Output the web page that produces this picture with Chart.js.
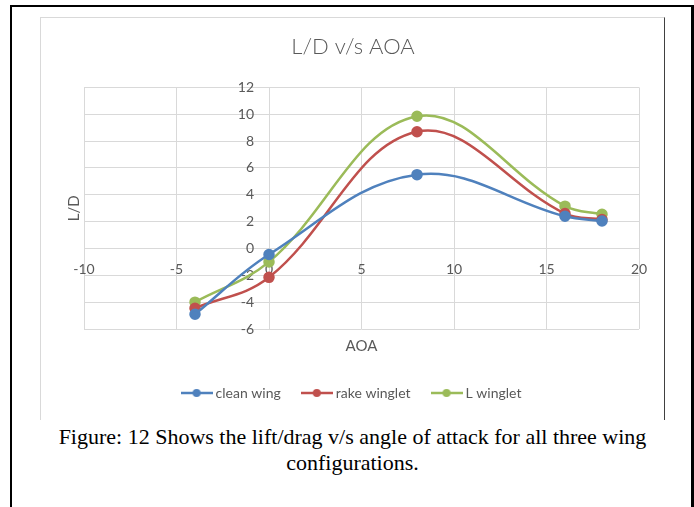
<!DOCTYPE html>
<html>
<head>
<meta charset="utf-8">
<script src="https://cdn.jsdelivr.net/npm/chart.js@4.4.1/dist/chart.umd.min.js"></script>
<style>
  html, body { margin: 0; padding: 0; background: #fff; }
  #page { position: relative; width: 694px; height: 507px; overflow: hidden; }
  #frame { position: absolute; left: 10px; top: 5px; width: 679px; height: 560px;
           border: 2px solid #000; border-right-width: 3px; border-bottom: none; }
  #box { position: absolute; left: 40px; top: 17px; width: 623px; height: 402px; overflow: hidden;
         border-top: 1px solid #d9d9d9; border-left: 1px solid #d9d9d9; border-right: 1px solid #404040; }
  #box canvas { position: absolute; left: 0; top: 0; }
  #cap { position: absolute; left: 40px; top: 424px; width: 625px; text-align: center;
         font-family: "Liberation Serif", "Times New Roman", serif; font-size: 22px; line-height: 26px; color: #000; }
</style>
</head>
<body>
<div id="page">
  <div id="frame"></div>
  <div id="box"><canvas id="chart" width="624" height="402"></canvas></div>
  <div id="cap">Figure: 12 Shows the lift/drag v/s angle of attack for all three wing configurations.</div>
</div>
<script>
// angle of attack (deg)
const aoa = [-4, 0, 8, 16, 18];
// L/D
const cleanWing = [-4.9, -0.45, 5.5, 2.4, 2.05];
const rakeWinglet = [-4.45, -2.15, 8.7, 2.6, 2.15];
const lWinglet = [-4.0, -1.0, 9.85, 3.15, 2.55];

const seriesNames = ['clean wing', 'rake winglet', 'L winglet'];
const seriesColors = ['#4f81bd', '#c0504d', '#9bbb59'];

const xTicks = { min: -10, max: 20, step: 5 };
const yTicks = { min: -6, max: 12, step: 2 };

const FONT = 'Lato, "Open Sans", sans-serif';
const GREY = '#d9d9d9';
const TEXT = '#595959';

// legend marker: line with a dot, like the spreadsheet legend
function legendMarker(color) {
  const c = document.createElement('canvas');
  c.width = 32; c.height = 10;
  const g = c.getContext('2d');
  g.strokeStyle = color; g.lineWidth = 2.5;
  g.beginPath(); g.moveTo(0, 5); g.lineTo(32, 5); g.stroke();
  g.fillStyle = color;
  g.beginPath(); g.arc(16, 5, 4, 0, Math.PI * 2); g.fill();
  return c;
}

const allValues = [cleanWing, rakeWinglet, lWinglet];
const datasets = allValues.map((vals, i) => ({
  label: seriesNames[i],
  data: aoa.map((x, j) => ({ x, y: vals[j] })),
  borderColor: seriesColors[i],
  backgroundColor: seriesColors[i],
  pointBackgroundColor: seriesColors[i],
  pointBorderColor: seriesColors[i],
  pointRadius: 4.5,
  borderWidth: 2.5,
  showLine: true,
  tension: 0.38,
  xAxisID: 'x',
  yAxisID: 'y',
}));

// empty edge axis, only used to hold space or carry a title
const spacer = (extra) => Object.assign({
  type: 'linear', ticks: { display: false }, grid: { display: false }, border: { display: false },
}, extra);

new Chart(document.getElementById('chart'), {
  type: 'scatter',
  data: { datasets },
  options: {
    responsive: false,
    animation: false,
    devicePixelRatio: 1,
    layout: { padding: { left: 0, right: 0, top: 0, bottom: 10 } },
    plugins: {
      title: {
        display: true, text: 'L/D v/s AOA', color: TEXT,
        font: { family: FONT, size: 22, weight: '300' },
        padding: { top: 16, bottom: 27 },
      },
      legend: {
        position: 'bottom',
        labels: {
          usePointStyle: true, pointStyleWidth: 24, padding: 24, color: TEXT,
          font: { family: FONT, size: 14 },
          generateLabels: (chart) => Chart.defaults.plugins.legend.labels.generateLabels(chart)
            .map((l, i) => Object.assign(l, { pointStyle: legendMarker(seriesColors[i]) })),
        },
      },
      tooltip: { enabled: false },
    },
    scales: {
      x: {
        type: 'linear', position: { y: 0 }, min: xTicks.min, max: xTicks.max,
        ticks: { stepSize: xTicks.step, color: TEXT, padding: 13, font: { family: FONT, size: 14 } },
        grid: { color: GREY, drawTicks: false },
        border: { color: GREY },
      },
      y: {
        type: 'linear', position: { x: 0 }, min: yTicks.min, max: yTicks.max,
        ticks: { stepSize: yTicks.step, color: TEXT, font: { family: FONT, size: 14 },
                 callback: (v) => v + '\u2003 \u200A' },
        grid: { color: GREY, drawTicks: false },
        border: { color: GREY },
      },
      xT: spacer({
        position: 'bottom', min: xTicks.min, max: xTicks.max,
        title: { display: true, text: 'AOA', color: TEXT, font: { family: FONT, size: 15 }, padding: { top: 0, bottom: 7 } },
        afterFit: (s) => { s.height = 33; },
      }),
      yT: spacer({
        position: 'left', min: yTicks.min, max: yTicks.max,
        title: { display: true, text: 'L/D', color: TEXT, font: { family: FONT, size: 15 }, padding: { top: 24, bottom: 0 } },
        afterFit: (s) => { s.width = 43; },
      }),
      yR: spacer({
        position: 'right', min: yTicks.min, max: yTicks.max,
        afterFit: (s) => { s.width = 26; },
      }),
    },
  },
});
</script>
</body>
</html>
